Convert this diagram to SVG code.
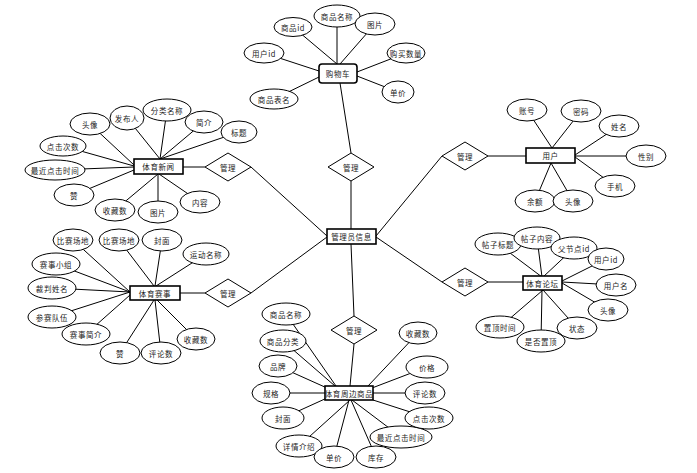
<svg xmlns="http://www.w3.org/2000/svg" width="697" height="473" viewBox="0 0 697 473">
<style>
.c line{stroke:#000;stroke-width:1;fill:none}
.a ellipse{fill:#fff;stroke:#000;stroke-width:1}
.e rect{fill:#fff;stroke:#000;stroke-width:1.6}
.r polygon{fill:#fff;stroke:#000;stroke-width:1}
text{font-family:"Noto Sans CJK SC","Noto Sans",sans-serif;font-size:7.5px;fill:#222;text-anchor:middle;dominant-baseline:central;letter-spacing:0.6px}
</style>
<rect width="697" height="473" fill="#fff"/>
<g id="connectors" class="c">
<line x1="351" y1="229" x2="351" y2="181"/>
<line x1="351" y1="153" x2="340" y2="83"/>
<line x1="327" y1="236" x2="251" y2="167"/>
<line x1="205" y1="167" x2="183" y2="167"/>
<line x1="327" y1="237" x2="251" y2="293"/>
<line x1="205" y1="293" x2="180" y2="293"/>
<line x1="376" y1="236" x2="442" y2="156"/>
<line x1="488" y1="156" x2="526" y2="156"/>
<line x1="376" y1="237" x2="442" y2="282"/>
<line x1="488" y1="282" x2="523" y2="282"/>
<line x1="351" y1="244" x2="354" y2="316"/>
<line x1="354" y1="344" x2="350" y2="386"/>
<line x1="337" y1="64" x2="293" y2="27"/>
<line x1="337" y1="64" x2="337" y2="16"/>
<line x1="340" y1="64" x2="375" y2="24"/>
<line x1="319" y1="71" x2="264" y2="53"/>
<line x1="357" y1="72" x2="406" y2="53"/>
<line x1="319" y1="77" x2="274" y2="99"/>
<line x1="357" y1="76" x2="398" y2="92"/>
<line x1="134" y1="165" x2="90" y2="124"/>
<line x1="160" y1="159" x2="127" y2="118"/>
<line x1="160" y1="159" x2="167" y2="110"/>
<line x1="160" y1="159" x2="204" y2="122"/>
<line x1="160" y1="159" x2="239" y2="132"/>
<line x1="134" y1="166" x2="63" y2="146"/>
<line x1="134" y1="167" x2="55" y2="170"/>
<line x1="134" y1="170" x2="74" y2="195"/>
<line x1="158" y1="174" x2="115" y2="210"/>
<line x1="158" y1="174" x2="158" y2="212"/>
<line x1="159" y1="174" x2="200" y2="202"/>
<line x1="130" y1="292" x2="73" y2="240"/>
<line x1="154" y1="286" x2="119" y2="240"/>
<line x1="155" y1="286" x2="162" y2="240"/>
<line x1="156" y1="286" x2="206" y2="254"/>
<line x1="130" y1="292" x2="56" y2="264"/>
<line x1="130" y1="292" x2="52" y2="288"/>
<line x1="130" y1="292" x2="52" y2="317"/>
<line x1="130" y1="295" x2="86" y2="334"/>
<line x1="154" y1="300" x2="120" y2="353"/>
<line x1="155" y1="300" x2="161" y2="353"/>
<line x1="157" y1="300" x2="196" y2="339"/>
<line x1="542" y1="277" x2="498" y2="244"/>
<line x1="542" y1="277" x2="537" y2="238"/>
<line x1="543" y1="277" x2="574" y2="248"/>
<line x1="562" y1="281" x2="606" y2="259"/>
<line x1="562" y1="282" x2="616" y2="285"/>
<line x1="562" y1="283" x2="608" y2="310"/>
<line x1="543" y1="290" x2="500" y2="327"/>
<line x1="542" y1="290" x2="541" y2="341"/>
<line x1="543" y1="290" x2="577" y2="328"/>
<line x1="552" y1="148" x2="527" y2="110"/>
<line x1="552" y1="148" x2="581" y2="111"/>
<line x1="575" y1="155" x2="619" y2="126"/>
<line x1="575" y1="156" x2="646" y2="156"/>
<line x1="575" y1="157" x2="615" y2="186"/>
<line x1="551" y1="163" x2="535" y2="201"/>
<line x1="551" y1="163" x2="573" y2="201"/>
<line x1="336" y1="386" x2="286" y2="314"/>
<line x1="335" y1="386" x2="283" y2="341"/>
<line x1="327" y1="388" x2="278" y2="366"/>
<line x1="325" y1="393" x2="271" y2="393"/>
<line x1="327" y1="398" x2="283" y2="418"/>
<line x1="350" y1="400" x2="299" y2="446"/>
<line x1="349" y1="400" x2="334" y2="457"/>
<line x1="351" y1="400" x2="376" y2="457"/>
<line x1="352" y1="400" x2="401" y2="437"/>
<line x1="373" y1="400" x2="429" y2="418"/>
<line x1="373" y1="393" x2="425" y2="393"/>
<line x1="372" y1="388" x2="427" y2="367"/>
<line x1="368" y1="386" x2="418" y2="333"/>
</g>

<g id="rel_cart" class="r"><polygon points="328,167 351,153 374,167 351,181"/><text x="351" y="167">管理</text></g>
<g id="rel_news" class="r"><polygon points="205,167 228,153 251,167 228,181"/><text x="228" y="167">管理</text></g>
<g id="rel_event" class="r"><polygon points="205,293 228,279 251,293 228,307"/><text x="228" y="293">管理</text></g>
<g id="rel_user" class="r"><polygon points="442,156 465,142 488,156 465,170"/><text x="465" y="156">管理</text></g>
<g id="rel_forum" class="r"><polygon points="442,282 465,268 488,282 465,296"/><text x="465" y="282">管理</text></g>
<g id="rel_goods" class="r"><polygon points="331,330 354,316 377,330 354,344"/><text x="354" y="330">管理</text></g>

<g id="admin" class="e"><rect x="327" y="229" width="49" height="15"/><text x="351.5" y="236.5">管理员信息</text></g>
<g id="cart" class="e"><rect x="319" y="64" width="38" height="19" rx="3"/><text x="338" y="73.5">购物车</text></g>
<g id="news" class="e"><rect x="134" y="159" width="49" height="15"/><text x="158.5" y="166.5">体育新闻</text></g>
<g id="event" class="e"><rect x="130" y="286" width="50" height="14"/><text x="155" y="293">体育赛事</text></g>
<g id="user" class="e"><rect x="526" y="148" width="49" height="15"/><text x="550.5" y="155.5">用户</text></g>
<g id="forum" class="e"><rect x="523" y="276" width="39" height="14"/><text x="542.5" y="283">体育论坛</text></g>
<g id="goods" class="e"><rect x="325" y="386" width="48" height="14"/><text x="349" y="393">体育周边商品</text></g>

<g id="cart_goodsid" class="a"><ellipse cx="293" cy="27" rx="19" ry="9.5"/><text x="293" y="27">商品id</text></g>
<g id="cart_name" class="a"><ellipse cx="337" cy="16" rx="23" ry="11"/><text x="337" y="16">商品名称</text></g>
<g id="cart_pic" class="a"><ellipse cx="375" cy="24" rx="20" ry="11"/><text x="375" y="24">图片</text></g>
<g id="cart_userid" class="a"><ellipse cx="264" cy="53" rx="20" ry="10"/><text x="264" y="53">用户id</text></g>
<g id="cart_qty" class="a"><ellipse cx="406" cy="53" rx="19" ry="10"/><text x="406" y="53">购买数量</text></g>
<g id="cart_table" class="a"><ellipse cx="274" cy="99" rx="24" ry="10"/><text x="274" y="99">商品表名</text></g>
<g id="cart_price" class="a"><ellipse cx="398" cy="92" rx="16" ry="11"/><text x="398" y="92">单价</text></g>

<g id="news_avatar" class="a"><ellipse cx="90" cy="124" rx="20" ry="11"/><text x="90" y="124">头像</text></g>
<g id="news_author" class="a"><ellipse cx="127" cy="118" rx="17" ry="12"/><text x="127" y="118">发布人</text></g>
<g id="news_cat" class="a"><ellipse cx="167" cy="110" rx="24" ry="11"/><text x="167" y="110">分类名称</text></g>
<g id="news_intro" class="a"><ellipse cx="204" cy="122" rx="19" ry="11"/><text x="204" y="122">简介</text></g>
<g id="news_title" class="a"><ellipse cx="239" cy="132" rx="18" ry="11"/><text x="239" y="132">标题</text></g>
<g id="news_clicks" class="a"><ellipse cx="63" cy="146" rx="23" ry="10"/><text x="63" y="146">点击次数</text></g>
<g id="news_lastclick" class="a"><ellipse cx="55" cy="170" rx="30" ry="10"/><text x="55" y="170">最近点击时间</text></g>
<g id="news_like" class="a"><ellipse cx="74" cy="195" rx="20" ry="11"/><text x="74" y="195">赞</text></g>
<g id="news_fav" class="a"><ellipse cx="115" cy="210" rx="20" ry="11"/><text x="115" y="210">收藏数</text></g>
<g id="news_pic" class="a"><ellipse cx="158" cy="212" rx="20" ry="11"/><text x="158" y="212">图片</text></g>
<g id="news_content" class="a"><ellipse cx="200" cy="202" rx="20" ry="11"/><text x="200" y="202">内容</text></g>

<g id="event_venue1" class="a"><ellipse cx="73" cy="240" rx="20" ry="11"/><text x="73" y="240">比赛场地</text></g>
<g id="event_venue2" class="a"><ellipse cx="119" cy="240" rx="20" ry="11"/><text x="119" y="240">比赛场地</text></g>
<g id="event_cover" class="a"><ellipse cx="162" cy="240" rx="20" ry="11"/><text x="162" y="240">封面</text></g>
<g id="event_sport" class="a"><ellipse cx="206" cy="254" rx="23" ry="11"/><text x="206" y="254">运动名称</text></g>
<g id="event_group" class="a"><ellipse cx="56" cy="264" rx="24" ry="11"/><text x="56" y="264">赛事小组</text></g>
<g id="event_referee" class="a"><ellipse cx="52" cy="288" rx="24" ry="11"/><text x="52" y="288">裁判姓名</text></g>
<g id="event_teams" class="a"><ellipse cx="52" cy="317" rx="24" ry="11"/><text x="52" y="317">参赛队伍</text></g>
<g id="event_intro" class="a"><ellipse cx="86" cy="334" rx="24" ry="11"/><text x="86" y="334">赛事简介</text></g>
<g id="event_like" class="a"><ellipse cx="120" cy="353" rx="20" ry="11"/><text x="120" y="353">赞</text></g>
<g id="event_comments" class="a"><ellipse cx="161" cy="353" rx="20" ry="11"/><text x="161" y="353">评论数</text></g>
<g id="event_fav" class="a"><ellipse cx="196" cy="339" rx="19" ry="11"/><text x="196" y="339">收藏数</text></g>

<g id="forum_title" class="a"><ellipse cx="498" cy="244" rx="23" ry="11"/><text x="498" y="244">帖子标题</text></g>
<g id="forum_content" class="a"><ellipse cx="537" cy="238" rx="23" ry="11"/><text x="537" y="238">帖子内容</text></g>
<g id="forum_parent" class="a"><ellipse cx="574" cy="248" rx="23" ry="11"/><text x="574" y="248">父节点id</text></g>
<g id="forum_userid" class="a"><ellipse cx="606" cy="259" rx="18" ry="11"/><text x="606" y="259">用户id</text></g>
<g id="forum_username" class="a"><ellipse cx="616" cy="285" rx="20" ry="11"/><text x="616" y="285">用户名</text></g>
<g id="forum_avatar" class="a"><ellipse cx="608" cy="310" rx="20" ry="11"/><text x="608" y="310">头像</text></g>
<g id="forum_toptime" class="a"><ellipse cx="500" cy="327" rx="24" ry="11"/><text x="500" y="327">置顶时间</text></g>
<g id="forum_status" class="a"><ellipse cx="577" cy="328" rx="20" ry="11"/><text x="577" y="328">状态</text></g>
<g id="forum_istop" class="a"><ellipse cx="541" cy="341" rx="24" ry="11"/><text x="541" y="341">是否置顶</text></g>

<g id="user_account" class="a"><ellipse cx="527" cy="110" rx="20" ry="11"/><text x="527" y="110">账号</text></g>
<g id="user_password" class="a"><ellipse cx="581" cy="111" rx="20" ry="11"/><text x="581" y="111">密码</text></g>
<g id="user_name" class="a"><ellipse cx="619" cy="126" rx="20" ry="11"/><text x="619" y="126">姓名</text></g>
<g id="user_gender" class="a"><ellipse cx="646" cy="156" rx="20" ry="11"/><text x="646" y="156">性别</text></g>
<g id="user_phone" class="a"><ellipse cx="615" cy="186" rx="20" ry="11"/><text x="615" y="186">手机</text></g>
<g id="user_balance" class="a"><ellipse cx="535" cy="201" rx="20" ry="11"/><text x="535" y="201">余额</text></g>
<g id="user_avatar" class="a"><ellipse cx="573" cy="201" rx="20" ry="11"/><text x="573" y="201">头像</text></g>

<g id="goods_name" class="a"><ellipse cx="286" cy="314" rx="24" ry="11"/><text x="286" y="314">商品名称</text></g>
<g id="goods_cat" class="a"><ellipse cx="283" cy="341" rx="23" ry="11"/><text x="283" y="341">商品分类</text></g>
<g id="goods_brand" class="a"><ellipse cx="278" cy="366" rx="19" ry="11"/><text x="278" y="366">品牌</text></g>
<g id="goods_spec" class="a"><ellipse cx="271" cy="393" rx="19" ry="11"/><text x="271" y="393">规格</text></g>
<g id="goods_cover" class="a"><ellipse cx="283" cy="418" rx="21" ry="11"/><text x="283" y="418">封面</text></g>
<g id="goods_detail" class="a"><ellipse cx="299" cy="446" rx="23" ry="11"/><text x="299" y="446">详情介绍</text></g>
<g id="goods_price" class="a"><ellipse cx="334" cy="457" rx="20" ry="11"/><text x="334" y="457">单价</text></g>
<g id="goods_lastclick" class="a"><ellipse cx="401" cy="437" rx="31" ry="11"/><text x="401" y="437">最近点击时间</text></g>
<g id="goods_stock" class="a"><ellipse cx="376" cy="457" rx="20" ry="11"/><text x="376" y="457">库存</text></g>
<g id="goods_clicks" class="a"><ellipse cx="429" cy="418" rx="24" ry="11"/><text x="429" y="418">点击次数</text></g>
<g id="goods_comments" class="a"><ellipse cx="425" cy="393" rx="20" ry="11"/><text x="425" y="393">评论数</text></g>
<g id="goods_cost" class="a"><ellipse cx="427" cy="367" rx="21" ry="11"/><text x="427" y="367">价格</text></g>
<g id="goods_fav" class="a"><ellipse cx="418" cy="333" rx="19" ry="11"/><text x="418" y="333">收藏数</text></g>
</svg>
